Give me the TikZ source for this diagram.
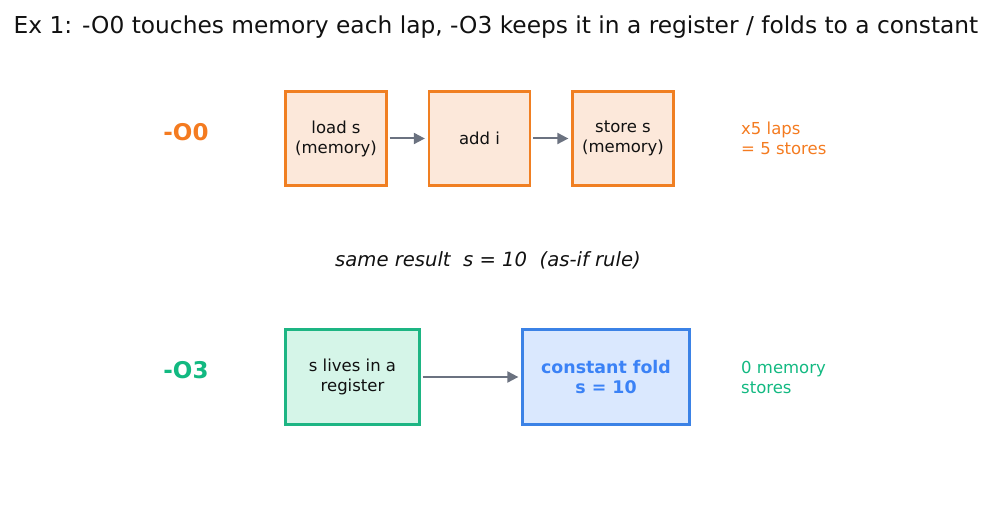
\documentclass[tikz,border=0pt]{standalone}
\usepackage{fontspec}
\setmainfont{DejaVu Sans}
\usetikzlibrary{arrows.meta}
\definecolor{orn}{HTML}{F07F22}
\definecolor{ornfill}{HTML}{FCE8DA}
\definecolor{ornt}{HTML}{F47B20}
\definecolor{grn}{HTML}{1DB583}
\definecolor{grnfill}{HTML}{D5F5E8}
\definecolor{grnt}{HTML}{12B981}
\definecolor{blu}{HTML}{3B82E6}
\definecolor{blufill}{HTML}{DAE8FE}
\definecolor{blut}{HTML}{3B82F6}
\definecolor{arr}{HTML}{6B7280}
\definecolor{txt}{HTML}{111111}
\tikzset{
  x=1pt, y=-1pt,
  boxtext/.style={font=\fontsize{16.5}{20}\selectfont, text=txt, align=center},
  obox/.style={boxtext, draw=orn, fill=ornfill, line width=2.3pt, minimum width=101pt, minimum height=94pt, inner sep=0pt},
  gbox/.style={boxtext, draw=grn, fill=grnfill, line width=2.3pt, minimum width=134pt, minimum height=95pt, inner sep=0pt},
  bbox/.style={boxtext, draw=blu, fill=blufill, line width=2.3pt, minimum width=167pt, minimum height=95pt, inner sep=0pt, text=blut, font=\fontsize{17.4}{20}\selectfont\bfseries},
  conn/.style={draw=arr, line width=2pt, -{Triangle[length=11pt,width=11pt]}, shorten <=2pt, shorten >=3pt},
  optlabel/.style={font=\fontsize{23}{26}\selectfont\bfseries},
  side/.style={font=\fontsize{16.5}{20}\selectfont, align=left, anchor=west, inner sep=0pt},
}
\begin{document}
\begin{tikzpicture}
\useasboundingbox (0,0) rectangle (992,510);
\node[font=\fontsize{23.3}{28}\selectfont, text=txt] (title) at (496,27) {Ex 1: -O0 touches memory each lap, -O3 keeps it in a register / folds to a constant};

\node[optlabel, text=ornt] (o0) at (186,132) {-O0};
\node[obox] (load) at (336,138.5) {load s\\(memory)};
\node[obox] (add) at (479.5,138.5) {add i};
\node[obox] (store) at (623,138.5) {store s\\(memory)};
\draw[conn] (load) -- (add);
\draw[conn] (add) -- (store);
\node[side, text=ornt] (laps) at (741,138.5) {x5 laps\\= 5 stores};

\node[font=\fontsize{19.6}{23}\selectfont\itshape, text=txt] (same) at (488,260) {same result\ \ s = 10\ \ (as-if rule)};

\node[optlabel, text=grnt] (o3) at (186,370) {-O3};
\node[gbox] (reg) at (352.5,377) {s lives in a\\register};
\node[bbox] (fold) at (606,377) {constant fold\\s = 10};
\draw[conn] (reg) -- (fold);
\node[side, text=grnt] (zero) at (741,377) {0 memory\\stores};
\end{tikzpicture}
\end{document}
